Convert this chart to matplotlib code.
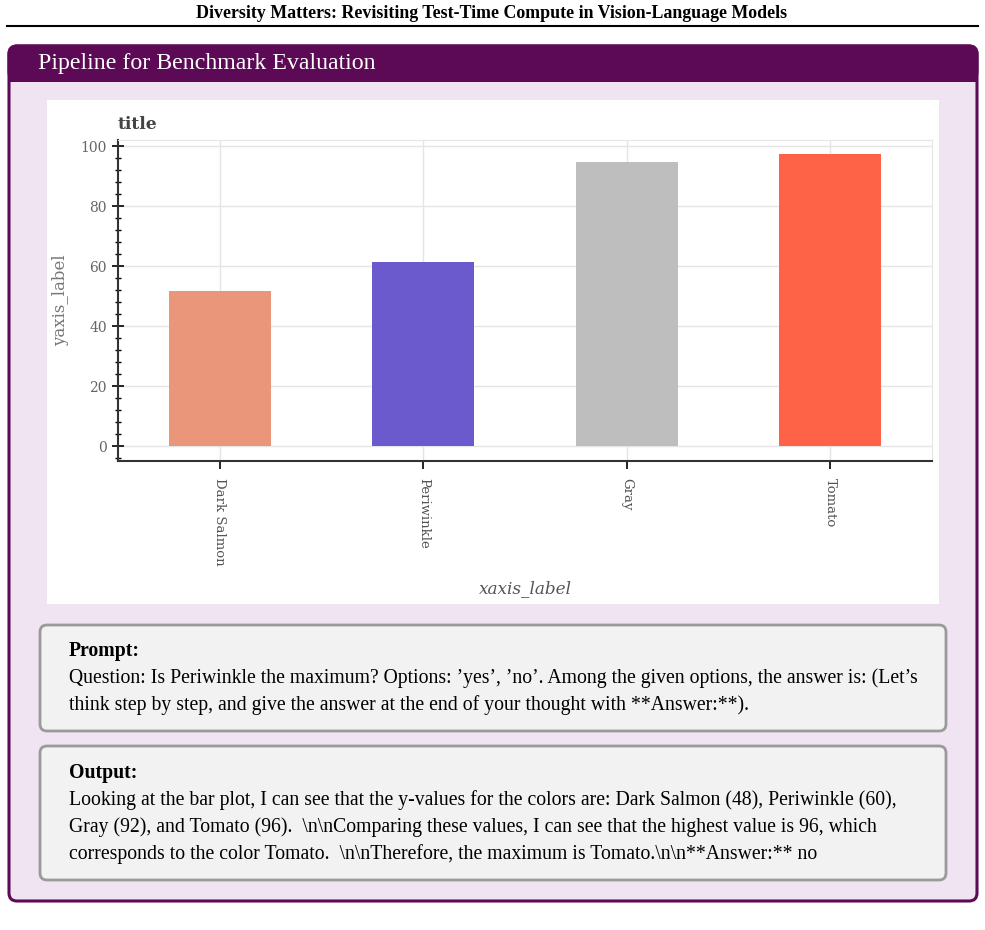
import matplotlib
matplotlib.use("Agg")
import matplotlib.pyplot as plt
from matplotlib.patches import FancyBboxPatch, Rectangle

# chart data
categories = ["Dark Salmon", "Periwinkle", "Gray", "Tomato"]
values = [51.8, 61.5, 94.7, 97.3]
bar_colors = ["#E9967A", "#6A5ACD", "#BEBEBE", "#FF6347"]
y_ticks = [0, 20, 40, 60, 80, 100]

header = "Diversity Matters: Revisiting Test-Time Compute in Vision-Language Models"
box_title = "Pipeline for Benchmark Evaluation"
prompt_lines = [
    "Question: Is Periwinkle the maximum? Options: \u2019yes\u2019, \u2019no\u2019. Among the given options, the answer is: (Let\u2019s",
    "think step by step, and give the answer at the end of your thought with **Answer:**).",
]
output_lines = [
    "Looking at the bar plot, I can see that the y-values for the colors are: Dark Salmon (48), Periwinkle (60),",
    "Gray (92), and Tomato (96).  \\n\\nComparing these values, I can see that the highest value is 96, which",
    "corresponds to the color Tomato.  \\n\\nTherefore, the maximum is Tomato.\\n\\n**Answer:** no",
]

W, H = 985, 930
PURPLE = "#5c0a55"
LAVENDER = "#f1e4f2"
SERIF = ["Liberation Serif", "DejaVu Serif"]

fig = plt.figure(figsize=(W / 100, H / 100), dpi=100)
bg = fig.add_axes([0, 0, 1, 1])
bg.set_xlim(0, W)
bg.set_ylim(H, 0)
bg.axis("off")

# page header
bg.text(492, 14, header, ha="center", va="center", fontsize=12.9,
        fontweight="bold", family=SERIF)
bg.plot([7, 978], [26, 26], color="black", lw=1.5)

# outer box
bg.add_patch(FancyBboxPatch((9, 46), 968, 855, boxstyle="round,pad=0,rounding_size=8",
                            fc=LAVENDER, ec=PURPLE, lw=2.2))
bg.add_patch(FancyBboxPatch((9, 46), 968, 34, boxstyle="round,pad=0,rounding_size=8",
                            fc=PURPLE, ec=PURPLE, lw=2.2))
bg.add_patch(Rectangle((9, 70), 968, 12, fc=PURPLE, ec="none"))
bg.text(38, 63, box_title, ha="left", va="center", fontsize=17.2,
        color="white", family=SERIF)

# white chart panel
bg.add_patch(Rectangle((47, 100), 892, 504, fc="white", ec="none"))


def text_box(y0, h, label, lines, shift):
    bg.add_patch(FancyBboxPatch((40, y0), 906, h, boxstyle="round,pad=0,rounding_size=7",
                                fc="#f2f2f2", ec="#9a9a9a", lw=2))
    bg.text(69, y0 + 24 + shift, label, ha="left", va="center", fontsize=14.2,
            fontweight="bold", family=SERIF)
    for i, line in enumerate(lines):
        bg.text(69, y0 + 51 + shift + 27 * i, line, ha="left", va="center",
                fontsize=14.2, family=SERIF)


text_box(625, 106, "Prompt:", prompt_lines, 2)
text_box(746, 134, "Output:", output_lines, 3)

# bar chart
ax = fig.add_axes([118 / W, 1 - 461 / H, (932 - 118) / W, (461 - 140) / H])
x = [i + 0.5 for i in range(len(categories))]
ax.bar(x, values, width=0.5, color=bar_colors, zorder=2)
ax.set_xlim(0, len(categories))
ax.set_ylim(-5, 102)
ax.set_xticks(x)
ax.set_xticklabels(categories, rotation=-90, family="DejaVu Serif",
                   fontsize=9.5, color="#555555")
ax.set_yticks(y_ticks)
ax.set_yticklabels([str(t) for t in y_ticks], family="DejaVu Serif",
                   fontsize=10, color="#666666")
ax.set_yticks(range(-4, 101, 4), minor=True)
ax.tick_params(axis="y", which="major", direction="inout", length=8, width=1.2, pad=4)
ax.tick_params(axis="y", which="minor", direction="inout", length=5, width=1.0)
ax.tick_params(axis="x", direction="out", length=6, width=1.2, pad=6)
ax.grid(True, color="#e5e5e5", lw=1, zorder=0)
for side in ["top", "right"]:
    ax.spines[side].set_color("#e5e5e5")
for side in ["left", "bottom"]:
    ax.spines[side].set_color("#333333")
    ax.spines[side].set_linewidth(1.5)
ax.set_title("title", loc="left", fontsize=12.3, fontweight="bold",
             family="DejaVu Serif", color="#444444", pad=8)
ax.set_ylabel("yaxis_label", family="DejaVu Serif", fontsize=12,
              color="#777777", labelpad=8)
ax.set_xlabel("xaxis_label", family="DejaVu Serif", fontsize=12.2,
              style="italic", color="#555555", labelpad=11)

fig.savefig("out.png", dpi=100)
